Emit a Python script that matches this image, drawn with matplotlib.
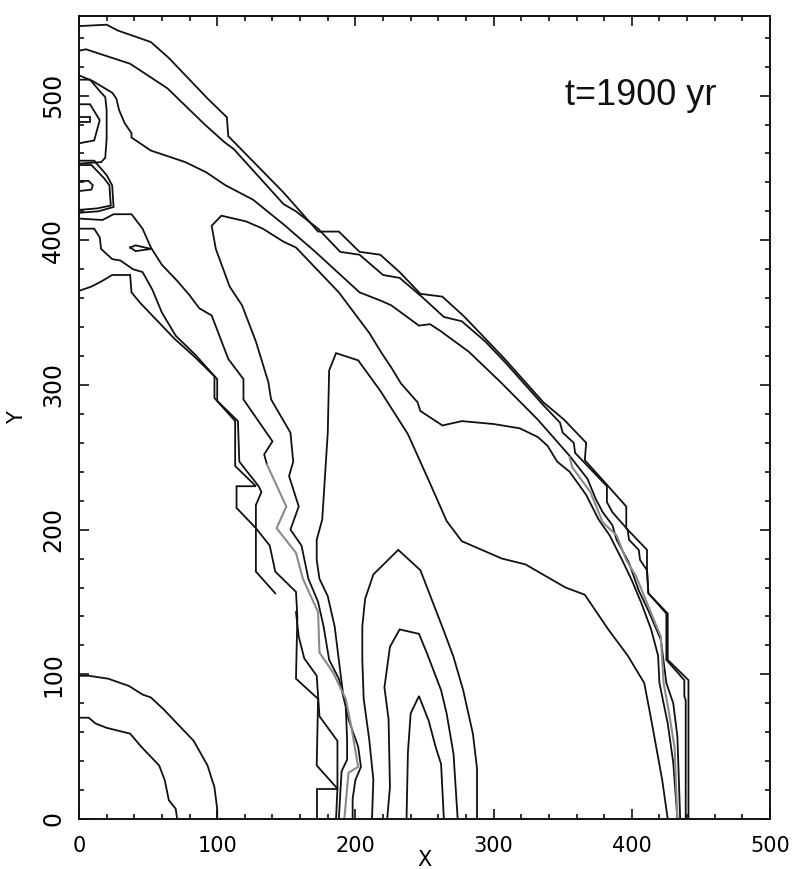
import matplotlib.pyplot as plt
from matplotlib.ticker import MultipleLocator

# contour lines (X, Y) for the t=1900 yr snapshot
c1_x = [0, 20, 28, 52, 65, 93, 107, 108, 148, 173, 188, 203, 218, 232, 247, 263, 279, 308, 336, 351,
        367, 366, 382, 396, 396, 411, 411, 412, 426, 426, 441, 441]
c1_y = [548, 549, 545, 537, 526, 498, 485, 472, 433, 406, 406, 392, 390, 378, 363, 361, 347, 318, 288, 276,
        260, 248, 231, 216, 201, 186, 172, 156, 142, 110, 96, 0]

c2_x = [0, 5, 37, 64, 91, 105, 112, 148, 157, 173, 189, 203, 220, 232, 248, 264, 277, 294, 308, 336,
        348, 350, 358, 359, 366, 382, 382, 386, 397, 398, 405, 406, 411, 412, 425, 425, 438, 438, 439, 439]
c2_y = [531, 532, 522, 505, 480, 468, 463, 425, 420, 408, 392, 390, 376, 374, 361, 347, 344, 330, 316, 286,
        274, 267, 260, 253, 246, 230, 219, 212, 200, 193, 186, 179, 172, 156, 142, 110, 96, 85, 82, 0]

c3_x = [0, 10, 24, 27, 29, 33, 38, 38, 52, 77, 92, 106, 126, 148, 171, 203, 219, 226, 246, 254,
        262, 282, 305, 332, 355, 368, 374, 379, 386, 389, 398, 405, 412, 421, 425, 430, 433, 435]
c3_y = [514, 510, 502, 498, 490, 481, 474, 471, 462, 454, 447, 438, 428, 411, 392, 364, 358, 355, 341, 342,
        337, 323, 302, 276, 251, 235, 221, 212, 203, 193, 177, 158, 144, 124, 94, 80, 57, 0]

c4_x = [188, 190, 194, 194, 193, 188, 181, 177, 173, 166, 161, 153, 159, 152, 155, 153, 139, 137, 128, 118,
        109, 99, 96, 103, 121, 133, 148, 157, 188, 210, 219, 226, 233, 245, 247, 263, 277, 300, 319, 332,
        339, 346, 355, 367, 376, 384, 393, 400, 407, 414, 419, 420, 426, 430, 433]
c4_y = [0, 33, 41, 55, 78, 97, 110, 133, 150, 166, 189, 200, 216, 237, 247, 267, 290, 302, 330, 355,
        368, 394, 410, 417, 413, 408, 399, 395, 364, 336, 322, 312, 301, 288, 282, 272, 275, 273, 270, 264,
        258, 247, 240, 224, 207, 196, 179, 165, 149, 131, 113, 94, 66, 39, 0]

c5_x = [198, 198, 200, 204, 202, 195, 191, 188, 185, 180, 174, 172, 172, 176, 180, 181, 186, 202, 218, 238,
        254, 266, 277, 306, 323, 352, 366, 383, 397, 409, 414, 422, 426]
c5_y = [0, 14, 27, 36, 50, 69, 87, 110, 133, 154, 166, 179, 193, 207, 267, 310, 322, 317, 296, 266,
        232, 206, 192, 180, 176, 160, 155, 131, 113, 94, 69, 27, 0]

c6_x = [212, 213, 210, 206, 205, 205, 207, 213, 231, 247, 264, 271, 278, 285, 288, 288]
c6_y = [0, 27, 55, 83, 110, 133, 152, 169, 186, 172, 130, 112, 89, 59, 35, 0]

c7_x = [223, 225, 224, 221, 225, 232, 246, 252, 262, 266, 271, 274]
c7_y = [0, 22, 69, 91, 119, 131, 128, 114, 89, 73, 45, 0]

c8_x = [237, 238, 240, 246, 253, 258, 262, 264]
c8_y = [0, 46, 73, 85, 68, 50, 38, 0]

# lighter contour segments
gr_x = [355, 357, 370, 379, 389, 396, 403, 412, 421, 423, 427, 431, 433]
gr_y = [250, 243, 226, 205, 196, 179, 168, 147, 126, 94, 73, 49, 0]
gl_x = [136, 150, 143, 157, 162, 173, 174, 184, 193, 197, 202, 195, 192]
gl_y = [245, 216, 201, 184, 166, 143, 115, 101, 83, 64, 36, 32, 0]

# inner edge of the shell (lower left)
la_x = [0, 9, 17, 24, 37, 38, 44, 60, 69, 83, 98, 98, 113, 113, 128, 114, 114, 128, 138, 142,
        157, 158, 157, 173, 172, 187, 186]
la_y = [365, 368, 372, 376, 376, 364, 357, 341, 332, 320, 306, 291, 275, 244, 230, 230, 215, 201, 189, 171,
        157, 140, 97, 83, 37, 21, 0]
lb_x = [0, 11, 15, 16, 24, 30, 39, 46, 53, 60, 70, 84, 100, 100, 115, 116, 130, 132, 128, 128, 142]
lb_y = [408, 408, 402, 394, 387, 386, 380, 378, 366, 350, 334, 321, 304, 289, 275, 247, 230, 226, 217, 171, 156]
lc_x = [0, 17, 25, 38, 46, 52, 60, 71, 80, 87, 96, 108, 119, 119, 140, 134, 136]
lc_y = [415, 414, 418, 418, 408, 395, 383, 372, 362, 353, 348, 318, 304, 290, 261, 252, 245]
ld_x = [157, 159, 163, 172, 174, 187, 187]
ld_y = [143, 126, 111, 99, 71, 54, 21]
box_x = [172, 172, 187]
box_y = [0, 21, 21]
tl_x = [37, 41, 52, 41, 37]
tl_y = [395, 392.5, 394, 396.5, 395]

# small closed contours along the left edge
t0_x = [0, 8, 8, 0]
t0_y = [485, 485, 482, 482]
t1_x = [0, 8, 15, 11, 0]
t1_y = [494, 494, 483, 469, 467]
t2_x = [0, 8, 16, 19, 20, 20, 19, 16, 0]
t2_y = [511, 511, 502, 499, 490, 470, 457, 454, 453]
t4_x = [0, 9, 18, 22, 23, 13, 0]
t4_y = [452, 452, 443, 438, 424, 422, 421]
t4b_x = [0, 11, 20, 24, 25, 14, 0]
t4b_y = [455, 455, 445, 438, 423, 420, 419]
t5_x = [0, 7, 10, 9, 0]
t5_y = [441, 441, 438, 435, 434]

# quarter rings at the origin
q1_x = [0, 7, 21, 36, 46, 52, 61, 72, 83, 93, 98, 100, 100]
q1_y = [99, 99, 97, 92, 86, 84, 76, 65, 54, 37, 22, 7, 0]
q2_x = [0, 7, 12, 20, 37, 45, 58, 62, 65, 70, 71]
q2_y = [70, 70, 66, 63, 59, 50, 37, 27, 13, 7, 0]

black_lines = [(c1_x, c1_y), (c2_x, c2_y), (c3_x, c3_y), (c4_x, c4_y), (c5_x, c5_y),
               (c6_x, c6_y), (c7_x, c7_y), (c8_x, c8_y),
               (la_x, la_y), (lb_x, lb_y), (lc_x, lc_y), (ld_x, ld_y), (box_x, box_y), (tl_x, tl_y),
               (t0_x, t0_y), (t1_x, t1_y), (t2_x, t2_y), (t4_x, t4_y), (t4b_x, t4b_y), (t5_x, t5_y),
               (q1_x, q1_y), (q2_x, q2_y)]
gray_lines = [(gr_x, gr_y), (gl_x, gl_y)]

fig = plt.figure(figsize=(7.99, 8.69), dpi=100)
ax = fig.add_axes([79 / 799, 1 - 819 / 869, 691 / 799, 803 / 869])

for xs, ys in black_lines:
    ax.plot(xs, ys, color='#111111', lw=1.3, solid_joinstyle='miter')
for xs, ys in gray_lines:
    ax.plot(xs, ys, color='#8a8a8a', lw=1.5)

ax.set_xlim(0, 500)
ax.set_ylim(0, 555)

# ticks on all four sides, pointing inward
ax.xaxis.set_major_locator(MultipleLocator(100))
ax.xaxis.set_minor_locator(MultipleLocator(20))
ax.yaxis.set_major_locator(MultipleLocator(100))
ax.yaxis.set_minor_locator(MultipleLocator(20))
ax.tick_params(which='both', direction='in', top=True, right=True, width=1.2, color='#111111')
ax.tick_params(which='major', length=7.5)
ax.tick_params(which='minor', length=3.8)
ax.tick_params(axis='x', labelsize=15, pad=12)
ax.tick_params(axis='y', labelsize=17, pad=10)
plt.setp(ax.get_yticklabels(), rotation=90, va='center')
for s in ax.spines.values():
    s.set_linewidth(1.4)
    s.set_color('#111111')

ax.set_xlabel('X', fontsize=15, labelpad=-4)
ax.set_ylabel('Y', fontsize=15, labelpad=10)

ax.text(0.703, 0.889, 't=1900 yr', transform=ax.transAxes, fontsize=26,
        family=['Liberation Sans', 'DejaVu Sans'], ha='left', va='baseline', color='#111111')

fig.savefig('out.png', dpi=100)
